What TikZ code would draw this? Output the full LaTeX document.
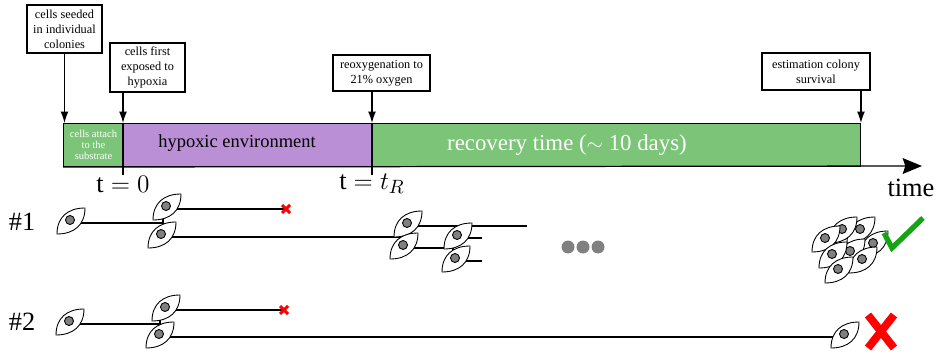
\documentclass[tikz,border=0pt]{standalone}
\usepackage{fontspec}
\setmainfont{Liberation Serif}
\usetikzlibrary{arrows.meta}
\definecolor{attachgreen}{RGB}{123,196,120}
\definecolor{hypoxpurple}{RGB}{187,143,214}
\definecolor{nucleusgray}{RGB}{128,128,128}
\definecolor{okgreen}{RGB}{20,165,20}
\tikzset{
  event/.style={draw, fill=white, align=center, inner sep=1pt, line width=0.6pt,
    font=\fontsize{7}{8.5}\selectfont},
  evarrow/.style={line width=0.7pt, -{Latex[length=6.5pt,width=4.5pt]}},
  phase/.style={draw, line width=0.6pt, anchor=north west, minimum height=0.86cm, inner sep=0pt},
  lineage/.style={line width=0.7pt},
  bigtext/.style={font=\fontsize{15}{15}\selectfont},
  cell/.pic={
    \draw[fill=white, line width=0.5pt] (-14,11) .. controls (-14,-6) and (-3,-15) .. (14,-15)
      .. controls (14,2) and (3,11) .. (-14,11) -- cycle;
    \draw[fill=nucleusgray, line width=0.5pt] (-1,-3) circle (4.5);
  },
  dead/.pic={
    \draw[red, line width=1.8pt] (-4,-4) -- (4,4) (-4,4) -- (4,-4);
  },
}
\begin{document}
\begin{tikzpicture}[x=0.02cm, y=-0.02cm]
  \useasboundingbox (0,0) rectangle (937,358);

  % time bar
  \node[phase, fill=attachgreen, minimum width=1.2cm, text=white, align=center,
    font=\fontsize{6}{6.3}\selectfont] (attach) at (63,123) {cells attach\\to the\\substrate};
  \node[phase, fill=hypoxpurple, minimum width=4.98cm] (hypox) at (123,123) {};
  \node[phase, fill=attachgreen, minimum width=9.76cm] (recov) at (372,123) {};
  \node[font=\fontsize{10.5}{10.5}\selectfont] (hyptext) at (237,143) {hypoxic environment};
  \node[font=\fontsize{13}{13}\selectfont, text=white] (rectext) at (567,145) {recovery time ($\sim$ 10 days)};

  \coordinate (tend) at (922,166);
  \draw[line width=0.7pt, -{Stealth[length=11pt,width=9pt,inset=1.5pt]}] (attach.south west) -- (tend);
  \node[bigtext] (time) at (911,188) {time};

  % ticks
  \draw[line width=0.7pt] (hypox.north west) -- ([yshift=-0.16cm]hypox.south west);
  \draw[line width=0.7pt] (recov.north west) -- ([yshift=-0.16cm]recov.south west);
  \node[bigtext] (t0) at (123,184) {$\mathrm{t}=0$};
  \node[bigtext] (tR) at (372,184) {$\mathrm{t}=t_R$};

  % events
  \node[event, minimum width=1.5cm, minimum height=0.96cm] (seed) at (64.5,29)
    {cells seeded\\in individual\\colonies};
  \node[event, minimum width=1.5cm, minimum height=0.98cm] (expose) at (147.5,67.5)
    {cells first\\exposed to\\hypoxia};
  \node[event, minimum width=1.94cm, minimum height=0.72cm] (reoxy) at (381.5,73)
    {reoxygenation to\\21\% oxygen};
  \node[event, minimum width=2.16cm, minimum height=0.74cm] (survive) at (816,71.5)
    {estimation colony\\survival};

  \draw[evarrow] (seed.south) -- (seed.south |- attach.north);
  \draw[evarrow] (hypox.north west |- expose.south) -- (hypox.north west);
  \draw[evarrow] (recov.north west |- reoxy.south) -- (recov.north west);
  \draw[evarrow] (recov.north east |- survive.south) -- (recov.north east);

  % lineage #1
  \node[bigtext] (n1) at (22,222) {\#1};
  \coordinate (a1) at (71,223);
  \coordinate (j1) at (163,223);
  \coordinate (b1) at (167,209);
  \coordinate (c1) at (162,237);
  \coordinate (x1) at (286,209);
  \coordinate (j2) at (405,237);
  \coordinate (d1) at (408,226);
  \coordinate (e1) at (404,248);
  \coordinate (d1end) at (527,226);
  \coordinate (j3) at (453,248);
  \coordinate (f1) at (458,238);
  \coordinate (g1) at (456,261);
  \coordinate (f1end) at (482,238);
  \coordinate (g1end) at (482,261);

  \draw[lineage] (a1) -- (j1) (j1 |- b1) -- (j1 |- c1);
  \draw[lineage] (b1) -- (x1);
  \draw[lineage] (c1) -- (j2) (j2 |- d1) -- (j2 |- e1);
  \draw[lineage] (d1) -- (d1end);
  \draw[lineage] (e1) -- (j3) (j3 |- f1) -- (j3 |- g1);
  \draw[lineage] (f1) -- (f1end);
  \draw[lineage] (g1) -- (g1end);
  \foreach \c in {a1,b1,c1,d1,e1,f1,g1}
    \pic at (\c) {cell};
  \pic at (x1) {dead};

  \foreach \x in {568,583,598}
    \fill[nucleusgray] (\x,247) circle (6.5);

  % surviving colony
  \foreach \x/\y in {861/232,843/232,874/246,826/241,851/254,833/257,863/262,839/272}
    \pic at (\x,\y) {cell};
  \draw[okgreen, line width=3pt] (884,233) -- (892,248) -- (923,218);

  % lineage #2
  \node[bigtext] (n2) at (22,322) {\#2};
  \coordinate (a2) at (70,324);
  \coordinate (j4) at (160,324);
  \coordinate (b2) at (166,310);
  \coordinate (c2) at (160,337);
  \coordinate (x2) at (284,310);
  \coordinate (d2) at (845,337);

  \draw[lineage] (a2) -- (j4) (j4 |- b2) -- (j4 |- c2);
  \draw[lineage] (b2) -- (x2);
  \draw[lineage] (c2) -- (d2);
  \foreach \c in {a2,b2,c2,d2}
    \pic at (\c) {cell};
  \pic at (x2) {dead};
  \draw[red, line width=4.5pt] (868,315) -- (894,348) (894,315) -- (868,348);
\end{tikzpicture}
\end{document}
